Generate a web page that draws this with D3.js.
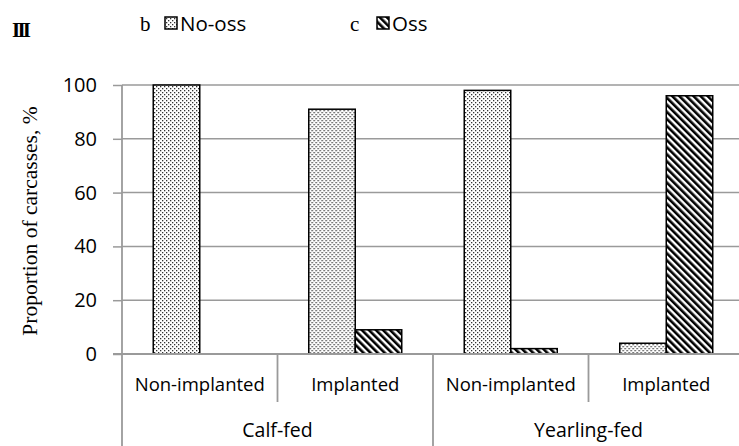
<!DOCTYPE html>
<html><head><meta charset="utf-8">
<script src="https://cdn.jsdelivr.net/npm/d3@7"></script>
<style>body{margin:0;background:#fff}svg{display:block}</style>
</head><body>
<script>
const subCategories = ["Non-implanted","Implanted","Non-implanted","Implanted"];
const groups = ["Calf-fed","Yearling-fed"];
const seriesNames = ["No-oss","Oss"];
const noOss = [100, 91, 98, 4];
const oss = [0, 9, 2, 96];
const yTicks = [0,20,40,60,80,100];

const W=739,H=446;
const svg=d3.select("body").append("svg").attr("width",W).attr("height",H);
const defs=svg.append("defs");
const p1=defs.append("pattern").attr("id","dots").attr("patternUnits","userSpaceOnUse").attr("width",4).attr("height",4);
p1.append("rect").attr("width",4).attr("height",4).attr("fill","#fff");
p1.append("rect").attr("x",0).attr("y",0).attr("width",1.3).attr("height",1.3).attr("fill","#333");
p1.append("rect").attr("x",2).attr("y",2).attr("width",1.3).attr("height",1.3).attr("fill","#333");
const p2=defs.append("pattern").attr("id","diag").attr("patternUnits","userSpaceOnUse").attr("width",5).attr("height",5).attr("patternTransform","rotate(-45)");
p2.append("rect").attr("width",5).attr("height",5).attr("fill","#fff");
p2.append("rect").attr("width",2.6).attr("height",5).attr("fill","#000");
const fills={"No-oss":"url(#dots)","Oss":"url(#diag)"};

const x0=d3.scaleBand().domain(d3.range(4)).range([122,744]).paddingInner(0).paddingOuter(0);
const x1=d3.scaleBand().domain(seriesNames).range([0,x0.bandwidth()]).paddingInner(0).paddingOuter(0.672);
const y=d3.scaleLinear().domain([0,100]).range([354,85]);

// gridlines
svg.append("g").selectAll("line").data(yTicks.filter(d=>d>0)).join("line")
 .attr("x1",122).attr("x2",W).attr("y1",d=>y(d)).attr("y2",d=>y(d))
 .attr("stroke","#9a9a9a").attr("stroke-width",1.5);

// y axis
const ya=svg.append("g").attr("transform","translate(122,0)").call(d3.axisLeft(y).tickValues(yTicks).tickSize(9).tickPadding(16));
ya.select(".domain").remove();
ya.selectAll(".tick line").attr("stroke","#9a9a9a").attr("stroke-width",1.5);
ya.selectAll(".tick text").attr("font-family","'Open Sans',sans-serif").attr("font-size",20).attr("fill","#000");
svg.append("line").attr("x1",122).attr("x2",122).attr("y1",85).attr("y2",H).attr("stroke","#9a9a9a").attr("stroke-width",1.8);

// bars
const data=d3.range(4).map(i=>({i,vals:[{k:"No-oss",v:noOss[i]},{k:"Oss",v:oss[i]}]}));
const gb=svg.append("g").selectAll("g").data(data).join("g").attr("transform",d=>`translate(${x0(d.i)},0)`);
gb.selectAll("rect").data(d=>d.vals.filter(e=>e.v>0)).join("rect")
 .attr("x",d=>x1(d.k)).attr("width",x1.bandwidth())
 .attr("y",d=>y(d.v)).attr("height",d=>y(0)-y(d.v))
 .attr("fill",d=>fills[d.k]).attr("stroke","#000").attr("stroke-width",1.5);

// x axis baseline
svg.append("line").attr("x1",113).attr("x2",W).attr("y1",y(0)).attr("y2",y(0)).attr("stroke","#9a9a9a").attr("stroke-width",1.8);
// separators
[1,3].forEach(i=>svg.append("line").attr("x1",x0(i)).attr("x2",x0(i)).attr("y1",y(0)).attr("y2",402).attr("stroke","#9a9a9a").attr("stroke-width",1.8));
[2].forEach(i=>svg.append("line").attr("x1",x0(i)).attr("x2",x0(i)).attr("y1",y(0)).attr("y2",H).attr("stroke","#9a9a9a").attr("stroke-width",1.8));

// sub labels
svg.append("g").selectAll("text").data(subCategories).join("text")
 .attr("x",(d,i)=>x0(i)+x0.bandwidth()/2).attr("y",391).attr("text-anchor","middle")
 .attr("font-family","'Open Sans',sans-serif").attr("font-size",18.5).text(d=>d);
svg.append("g").selectAll("text").data(groups).join("text")
 .attr("x",(d,i)=>x0(i*2)+x0.bandwidth()).attr("y",437).attr("text-anchor","middle")
 .attr("font-family","'Open Sans',sans-serif").attr("font-size",19.5).text(d=>d);

// y title
svg.append("text").attr("transform","translate(37,221) rotate(-90)").attr("text-anchor","middle")
 .attr("font-family","'Liberation Serif',serif").attr("font-size",21.5).text("Proportion of carcasses, %");

// panel label and legend
svg.append("text").attr("x",12).attr("y",37).attr("font-family","'Liberation Serif',serif").attr("font-weight","bold").attr("font-size",21).attr("textLength",19).text("III");
const leg=[{l:"b",x:140,k:"No-oss"},{l:"c",x:350,k:"Oss"}];
leg.forEach((d,i)=>{
 svg.append("text").attr("x",d.x).attr("y",31).attr("font-family","'Liberation Serif',serif").attr("font-size",21).text(d.l);
 const sx=d.x+(i==0?25:27);
 svg.append("rect").attr("x",sx).attr("y",17).attr("width",12).attr("height",12).attr("fill",fills[d.k]).attr("stroke","#000").attr("stroke-width",1.5);
 svg.append("text").attr("x",sx+15).attr("y",31).attr("font-family","'Open Sans',sans-serif").attr("font-size",20.5).text(d.k);
});
</script>
</body></html>
